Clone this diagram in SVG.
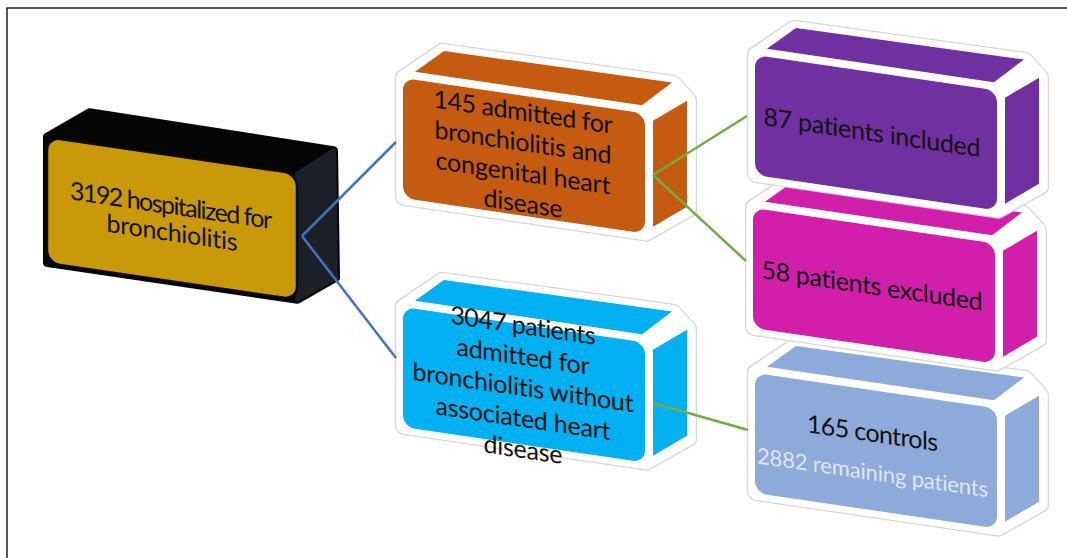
<svg xmlns="http://www.w3.org/2000/svg" xmlns:xlink="http://www.w3.org/1999/xlink" width="1067" height="558" viewBox="0 0 1067 558">
<style>
  .t { font-family: Lato, "Liberation Sans", sans-serif; font-size: 25px; fill: #111; text-anchor: middle; font-variant-ligatures: none; }
  .t2 { font-family: Lato, "Liberation Sans", sans-serif; font-size: 22px; fill: #dfe6f3; text-anchor: middle; font-variant-ligatures: none; }
  .cb { fill: none; stroke: #4472c4; stroke-width: 2.5; }
  .cg { fill: none; stroke: #70ad47; stroke-width: 2.5; }
</style>
<defs>
  <g id="cbox">
    <path d="M0,0 L40,-33 L271,-35 L286,-21 L286,89 L251,114 L242,120 L0,120 Z" fill="#fff" stroke="#d6d6d6" stroke-width="16" stroke-linejoin="round"/>
    <path d="M0,0 L40,-33 L271,-35 L286,-21 L286,89 L251,114 L242,120 L0,120 Z" fill="#fff" stroke="#fff" stroke-width="13.5" stroke-linejoin="round"/>
    <path d="M12,-8 L41,-33 L269,-35 L239,-8 Z" stroke-linejoin="round"/>
    <path d="M250,6 L284,-19 L284,87 L250,112 Z"/>
    <rect x="0" y="0" width="242" height="120" rx="12"/>
  </g>
</defs>
<rect x="0" y="0" width="1067" height="558" fill="#fff"/>
<path d="M7,558 V8 H1067" fill="none" stroke="#222" stroke-width="1.5"/>

<g id="node-controls" transform="matrix(1,0.147,0,1,755,373)">
  <use xlink:href="#cbox" href="#cbox" fill="#8eaadb"/>
  <text class="t" x="117.5" y="51.5" textLength="131">165 controls</text>
  <text class="t2" x="117.5" y="90" textLength="231">2882 remaining patients</text>
</g>
<g id="node-excluded" transform="matrix(1,0.147,0,1,753,208)">
  <use xlink:href="#cbox" href="#cbox" fill="#d11fab"/>
  <text class="t" x="119" y="69" textLength="221">58 patients excluded</text>
</g>
<g id="node-included" transform="matrix(1,0.147,0,1,755,55)">
  <use xlink:href="#cbox" href="#cbox" fill="#7030a0"/>
  <text class="t" x="117" y="69" textLength="217">87 patients included</text>
</g>
<g id="node-chd" transform="matrix(1,0.147,0,1,403,78)">
  <use xlink:href="#cbox" href="#cbox" fill="#c55a11"/>
  <text class="t" x="120" y="25" textLength="179">145 admitted for</text>
  <text class="t" x="120" y="55.5" textLength="177">bronchiolitis and</text>
  <text class="t" x="120" y="86" textLength="175">congenital heart</text>
  <text class="t" x="120" y="116.5" textLength="79">disease</text>
</g>
<g id="node-nochd" transform="matrix(1,0.147,0,1,403,307)">
  <use xlink:href="#cbox" href="#cbox" fill="#00b0f0"/>
  <text class="t" x="120" y="9.5" textLength="145">3047 patients</text>
  <text class="t" x="120" y="40.5" textLength="133">admitted for</text>
  <text class="t" x="120" y="71.5" textLength="221">bronchiolitis without</text>
  <text class="t" x="120" y="102.5" textLength="175">associated heart</text>
  <text class="t" x="120" y="133.5" textLength="79">disease</text>
</g>
<g id="node-hospitalized" transform="matrix(1,0.147,0,1,47,137)">
  <path d="M0,0 L43,-31 L287,-29 L289,98 L250,126 L0,126 Z" fill="#050505" stroke="#050505" stroke-width="8" stroke-linejoin="round"/>
  <path d="M250,0 L287,-29 L289,98 L250,126 Z" fill="#1b2028" stroke="#1b2028" stroke-width="4" stroke-linejoin="round"/>
  <rect x="0" y="0" width="250" height="126" rx="13" fill="#c9990a" stroke="#0a0a0a" stroke-width="2.5"/>
  <text class="t" x="124" y="59" textLength="202">3192 hospitalized for</text>
  <text class="t" x="125" y="86" textLength="131">bronchiolitis</text>
</g>

<g id="connectors">
  <path class="cb" d="M302,236 L396,142"/>
  <path class="cb" d="M302,236 L396,358"/>
  <path class="cg" d="M653,175 L747,116"/>
  <path class="cg" d="M653,175 L746,261"/>
  <path class="cg" d="M653,403 L748,430"/>
</g>
</svg>
